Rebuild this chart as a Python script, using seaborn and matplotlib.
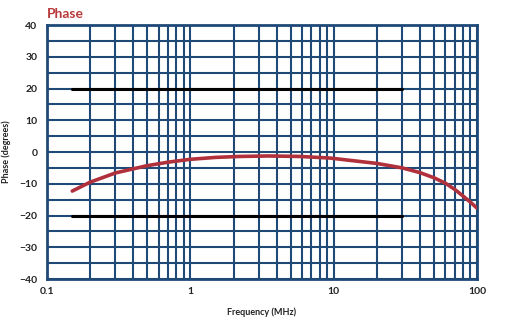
import matplotlib
matplotlib.use("Agg")
import matplotlib.pyplot as plt
import seaborn as sns
import pandas as pd
from matplotlib.ticker import LogLocator, MultipleLocator, FixedLocator, NullFormatter

# Data
freq = [0.15, 0.2, 0.3, 0.4, 0.5, 0.7, 1.0, 1.5, 2.2, 3.5, 5.8, 9.4, 20, 30, 40, 50, 60, 70, 80, 90, 100]
phase = [-12.3, -9.5, -6.6, -5.3, -4.3, -3.2, -2.3, -1.7, -1.4, -1.25, -1.4, -1.9, -3.6, -5.0, -6.5, -8.1, -9.8, -11.8, -13.9, -15.8, -17.7]
limit_freq = [0.15, 30]
upper_limit = [20, 20]
lower_limit = [-20, -20]
x_ticks = [0.1, 1, 10, 100]
x_tick_labels = ["0.1", "1", "10", "100"]
y_ticks = [-40, -30, -20, -10, 0, 10, 20, 30, 40]

sns.set_style("white")
plt.rcParams['font.family'] = ['Lato', 'DejaVu Sans']

navy = "#1f4a78"
red = "#b0303c"

fig = plt.figure(figsize=(5.15, 3.23), dpi=100)
ax = fig.add_axes([0.0913, 0.1362, 0.8350, 0.7864])

df_curve = pd.DataFrame({"f": freq, "p": phase})
df_up = pd.DataFrame({"f": limit_freq, "p": upper_limit})
df_lo = pd.DataFrame({"f": limit_freq, "p": lower_limit})

sns.lineplot(data=df_up, x="f", y="p", color="black", linewidth=2.2, ax=ax, zorder=3)
sns.lineplot(data=df_lo, x="f", y="p", color="black", linewidth=2.2, ax=ax, zorder=3)
sns.lineplot(data=df_curve, x="f", y="p", color=red, linewidth=2.6, ax=ax, zorder=4)

ax.set_xscale("log")
ax.set_xlim(0.1, 100)
ax.set_ylim(-40, 40)

ax.xaxis.set_major_locator(FixedLocator(x_ticks))
ax.set_xticklabels(x_tick_labels)
ax.xaxis.set_minor_locator(LogLocator(base=10, subs=[2, 3, 4, 5, 6, 7, 8, 9], numticks=20))
ax.xaxis.set_minor_formatter(NullFormatter())
ax.yaxis.set_major_locator(FixedLocator(y_ticks))
ax.yaxis.set_minor_locator(MultipleLocator(5))

ax.grid(which="both", color=navy, linewidth=1.5)
ax.set_axisbelow(True)

for s in ax.spines.values():
    s.set_color(navy)
    s.set_linewidth(2)

ax.tick_params(axis="y", which="major", length=4, width=1.2, color=navy, pad=3,
               labelsize=7.5)
ax.tick_params(axis="y", which="minor", length=0)
ax.tick_params(axis="x", which="both", length=0, pad=6, labelsize=7.5)
for lab in ax.get_xticklabels() + ax.get_yticklabels():
    lab.set_fontweight("bold")
    lab.set_color("#222222")

ax.set_xlabel("Frequency (MHz)", fontsize=6.5, fontweight="bold", color="#222222", labelpad=8)
ax.set_ylabel("Phase (degrees)", fontsize=6.5, fontweight="bold", color="#222222", labelpad=6)

fig.text(0.091, 0.957, "Phase", fontsize=10, fontweight="bold", color="#b83a3a",
         ha="left", va="center")

fig.savefig("out.png", dpi=100)
